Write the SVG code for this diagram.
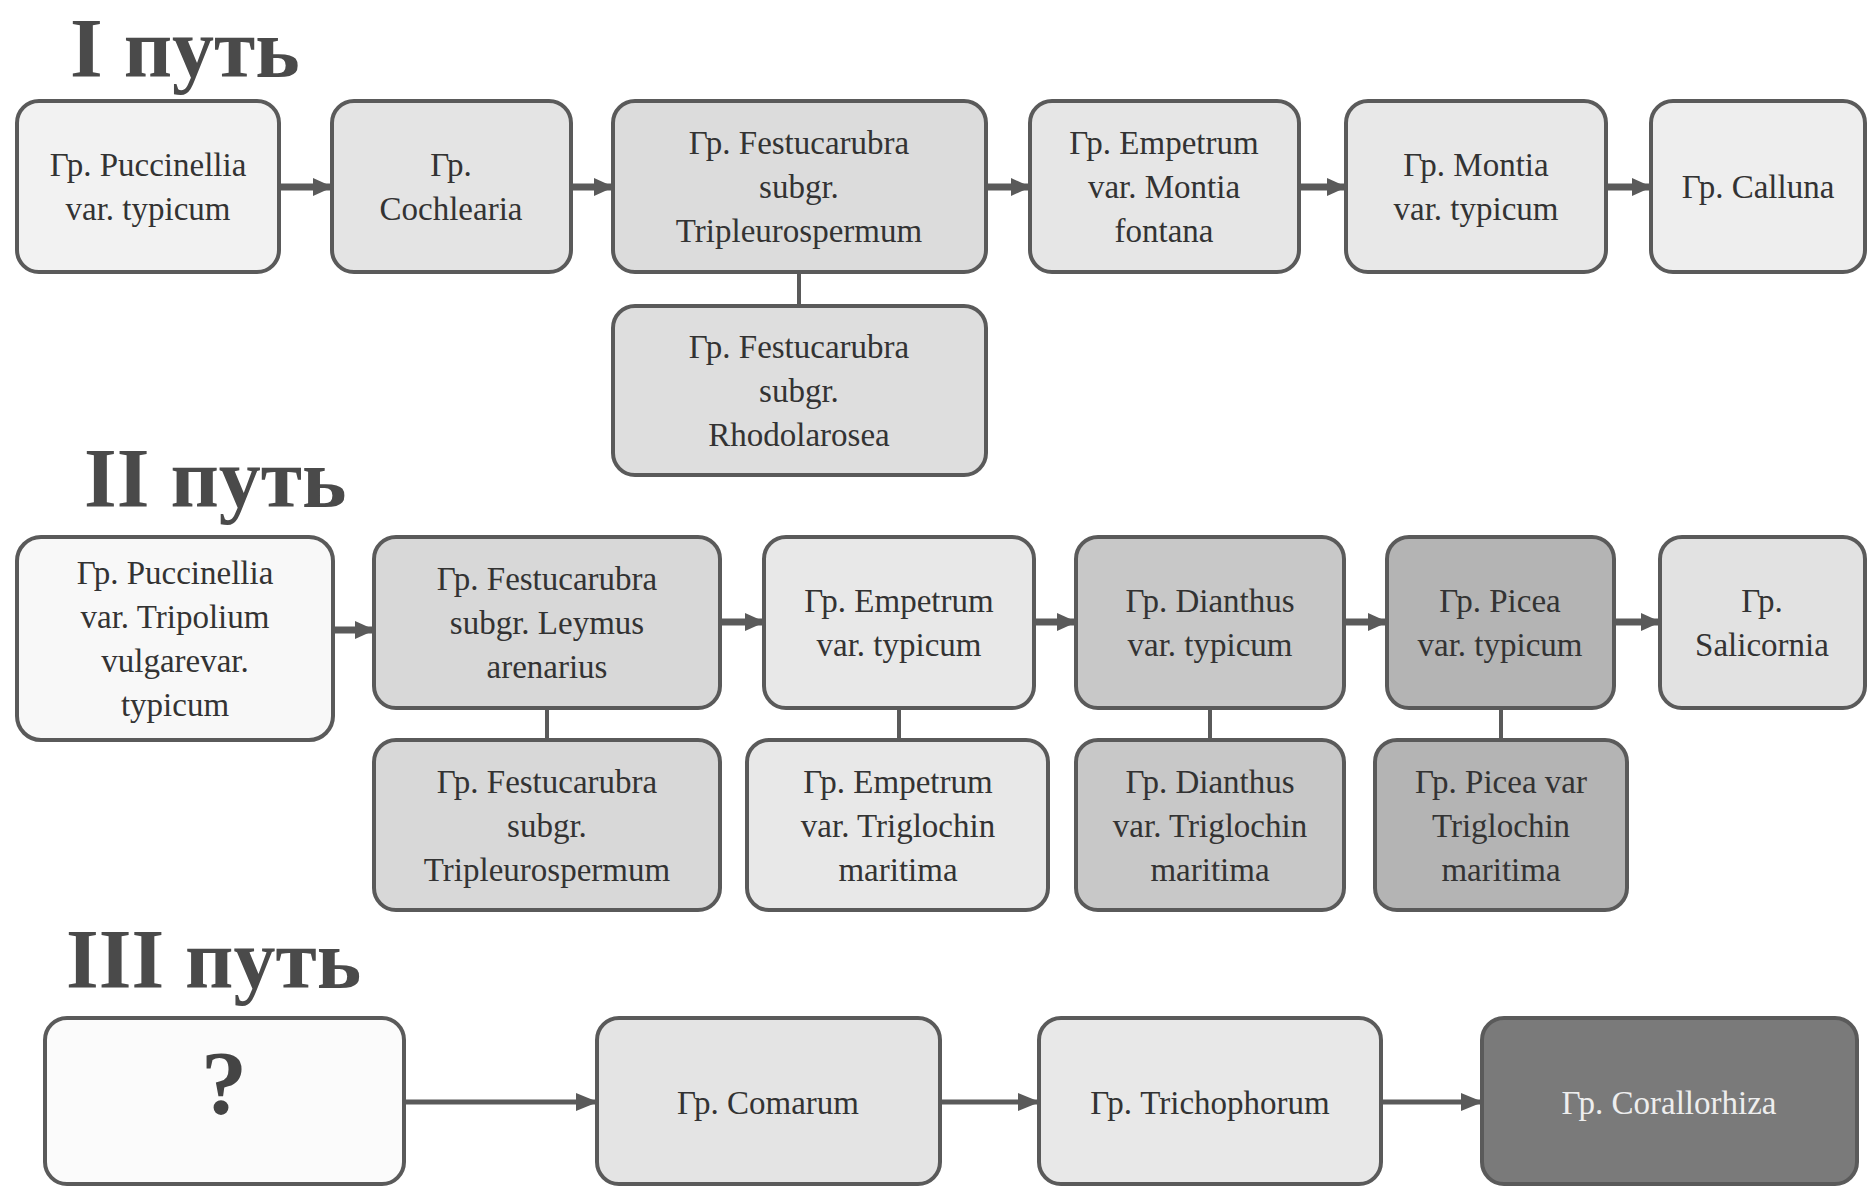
<svg xmlns="http://www.w3.org/2000/svg" width="1872" height="1188" viewBox="0 0 1872 1188">
  <style>
    .title { font-family: "Liberation Serif", serif; font-weight: bold; font-size: 84px; fill: #4a4a4a; }
    .box { stroke: #5a5a5a; stroke-width: 4; }
    .lbl { font-family: "Liberation Serif", serif; font-size: 33px; fill: #333333; text-anchor: middle; }
    .lbl-light { fill: #eeeeee; }
    .q { font-family: "Liberation Serif", serif; font-weight: bold; font-size: 92px; fill: #444444; text-anchor: middle; }
    .arrow { stroke: #5a5a5a; stroke-width: 7; fill: none; marker-end: url(#head); }
    .arrow-thin { stroke: #5a5a5a; stroke-width: 5; fill: none; marker-end: url(#headThin); }
    .link { stroke: #5a5a5a; stroke-width: 4; fill: none; }
  </style>
  <defs>
    <marker id="head" markerUnits="userSpaceOnUse" viewBox="0 0 20 20" refX="19" refY="10" markerWidth="20" markerHeight="20" orient="auto">
      <path d="M0,1 L20,10 L0,19 Z" fill="#5a5a5a"/>
    </marker>
    <marker id="headThin" markerUnits="userSpaceOnUse" viewBox="0 0 22 22" refX="21" refY="11" markerWidth="22" markerHeight="22" orient="auto">
      <path d="M0,2 L22,11 L0,20 Z" fill="#5a5a5a"/>
    </marker>
  </defs>

  <rect width="1872" height="1188" fill="#ffffff"/>

  <!-- section titles -->
  <text class="title" x="70" y="77">I путь</text>
  <text class="title" x="84" y="507">II путь</text>
  <text class="title" x="66" y="988">III путь</text>

  <!-- connectors -->
  <g id="connectors">
    <!-- path I -->
    <line class="arrow" x1="279" y1="187" x2="332" y2="187"/>
    <line class="arrow" x1="571" y1="187" x2="613" y2="187"/>
    <line class="arrow" x1="986" y1="187" x2="1030" y2="187"/>
    <line class="arrow" x1="1299" y1="187" x2="1346" y2="187"/>
    <line class="arrow" x1="1606" y1="187" x2="1651" y2="187"/>
    <line class="link" x1="799" y1="272" x2="799" y2="306"/>
    <!-- path II -->
    <line class="arrow" x1="333" y1="630" x2="374" y2="630"/>
    <line class="arrow" x1="720" y1="622" x2="764" y2="622"/>
    <line class="arrow" x1="1034" y1="622" x2="1076" y2="622"/>
    <line class="arrow" x1="1344" y1="622" x2="1387" y2="622"/>
    <line class="arrow" x1="1614" y1="622" x2="1660" y2="622"/>
    <line class="link" x1="547" y1="708" x2="547" y2="740"/>
    <line class="link" x1="899" y1="708" x2="899" y2="740"/>
    <line class="link" x1="1210" y1="708" x2="1210" y2="740"/>
    <line class="link" x1="1501" y1="708" x2="1501" y2="740"/>
    <!-- path III -->
    <line class="arrow-thin" x1="404" y1="1102" x2="597" y2="1102"/>
    <line class="arrow-thin" x1="940" y1="1102" x2="1039" y2="1102"/>
    <line class="arrow-thin" x1="1381" y1="1102" x2="1482" y2="1102"/>
  </g>

  <!-- path I nodes -->
  <g id="p1-puccinellia">
    <rect class="box" x="17" y="101" width="262" height="171" rx="22" fill="#f2f2f2"/>
    <text class="lbl"><tspan x="148" y="176">Гр. Puccinellia</tspan><tspan x="148" y="220">var. typicum</tspan></text>
  </g>
  <g id="p1-cochlearia">
    <rect class="box" x="332" y="101" width="239" height="171" rx="22" fill="#e4e4e4"/>
    <text class="lbl"><tspan x="451" y="176">Гр.</tspan><tspan x="451" y="220">Cochlearia</tspan></text>
  </g>
  <g id="p1-festuca">
    <rect class="box" x="613" y="101" width="373" height="171" rx="22" fill="#dcdcdc"/>
    <text class="lbl"><tspan x="799" y="154">Гр. Festucarubra</tspan><tspan x="799" y="198">subgr.</tspan><tspan x="799" y="242">Tripleurospermum</tspan></text>
  </g>
  <g id="p1-festuca-sub">
    <rect class="box" x="613" y="306" width="373" height="169" rx="22" fill="#dedede"/>
    <text class="lbl"><tspan x="799" y="358">Гр. Festucarubra</tspan><tspan x="799" y="402">subgr.</tspan><tspan x="799" y="446">Rhodolarosea</tspan></text>
  </g>
  <g id="p1-empetrum">
    <rect class="box" x="1030" y="101" width="269" height="171" rx="22" fill="#e6e6e6"/>
    <text class="lbl"><tspan x="1164" y="154">Гр. Empetrum</tspan><tspan x="1164" y="198">var. Montia</tspan><tspan x="1164" y="242">fontana</tspan></text>
  </g>
  <g id="p1-montia">
    <rect class="box" x="1346" y="101" width="260" height="171" rx="22" fill="#e8e8e8"/>
    <text class="lbl"><tspan x="1476" y="176">Гр. Montia</tspan><tspan x="1476" y="220">var. typicum</tspan></text>
  </g>
  <g id="p1-calluna">
    <rect class="box" x="1651" y="101" width="214" height="171" rx="22" fill="#eeeeee"/>
    <text class="lbl" x="1758" y="198">Гр. Calluna</text>
  </g>

  <!-- path II nodes -->
  <g id="p2-puccinellia">
    <rect class="box" x="17" y="537" width="316" height="203" rx="24" fill="#f8f8f8"/>
    <text class="lbl"><tspan x="175" y="584">Гр. Puccinellia</tspan><tspan x="175" y="628">var. Tripolium</tspan><tspan x="175" y="672">vulgarevar.</tspan><tspan x="175" y="716">typicum</tspan></text>
  </g>
  <g id="p2-festuca">
    <rect class="box" x="374" y="537" width="346" height="171" rx="22" fill="#d8d8d8"/>
    <text class="lbl"><tspan x="547" y="590">Гр. Festucarubra</tspan><tspan x="547" y="634">subgr. Leymus</tspan><tspan x="547" y="678">arenarius</tspan></text>
  </g>
  <g id="p2-festuca-sub">
    <rect class="box" x="374" y="740" width="346" height="170" rx="22" fill="#d8d8d8"/>
    <text class="lbl"><tspan x="547" y="793">Гр. Festucarubra</tspan><tspan x="547" y="837">subgr.</tspan><tspan x="547" y="881">Tripleurospermum</tspan></text>
  </g>
  <g id="p2-empetrum">
    <rect class="box" x="764" y="537" width="270" height="171" rx="22" fill="#e8e8e8"/>
    <text class="lbl"><tspan x="899" y="612">Гр. Empetrum</tspan><tspan x="899" y="656">var. typicum</tspan></text>
  </g>
  <g id="p2-empetrum-sub">
    <rect class="box" x="747" y="740" width="301" height="170" rx="22" fill="#e8e8e8"/>
    <text class="lbl"><tspan x="898" y="793">Гр. Empetrum</tspan><tspan x="898" y="837">var. Triglochin</tspan><tspan x="898" y="881">maritima</tspan></text>
  </g>
  <g id="p2-dianthus">
    <rect class="box" x="1076" y="537" width="268" height="171" rx="22" fill="#c8c8c8"/>
    <text class="lbl"><tspan x="1210" y="612">Гр. Dianthus</tspan><tspan x="1210" y="656">var. typicum</tspan></text>
  </g>
  <g id="p2-dianthus-sub">
    <rect class="box" x="1076" y="740" width="268" height="170" rx="22" fill="#c8c8c8"/>
    <text class="lbl"><tspan x="1210" y="793">Гр. Dianthus</tspan><tspan x="1210" y="837">var. Triglochin</tspan><tspan x="1210" y="881">maritima</tspan></text>
  </g>
  <g id="p2-picea">
    <rect class="box" x="1387" y="537" width="227" height="171" rx="22" fill="#b4b4b4"/>
    <text class="lbl"><tspan x="1500" y="612">Гр. Picea</tspan><tspan x="1500" y="656">var. typicum</tspan></text>
  </g>
  <g id="p2-picea-sub">
    <rect class="box" x="1375" y="740" width="252" height="170" rx="22" fill="#b4b4b4"/>
    <text class="lbl"><tspan x="1501" y="793">Гр. Picea var</tspan><tspan x="1501" y="837">Triglochin</tspan><tspan x="1501" y="881">maritima</tspan></text>
  </g>
  <g id="p2-salicornia">
    <rect class="box" x="1660" y="537" width="205" height="171" rx="22" fill="#e2e2e2"/>
    <text class="lbl"><tspan x="1762" y="612">Гр.</tspan><tspan x="1762" y="656">Salicornia</tspan></text>
  </g>

  <!-- path III nodes -->
  <g id="p3-unknown">
    <rect class="box" x="45" y="1018" width="359" height="166" rx="22" fill="#fbfbfb"/>
    <text class="q" x="224" y="1114">?</text>
  </g>
  <g id="p3-comarum">
    <rect class="box" x="597" y="1018" width="343" height="166" rx="22" fill="#e4e4e4"/>
    <text class="lbl" x="768" y="1114">Гр. Comarum</text>
  </g>
  <g id="p3-trichophorum">
    <rect class="box" x="1039" y="1018" width="342" height="166" rx="22" fill="#e8e8e8"/>
    <text class="lbl" x="1210" y="1114">Гр. Trichophorum</text>
  </g>
  <g id="p3-corallorhiza">
    <rect class="box" x="1482" y="1018" width="375" height="166" rx="22" fill="#7a7a7a"/>
    <text class="lbl lbl-light" x="1669" y="1114">Гр. Corallorhiza</text>
  </g>
</svg>
